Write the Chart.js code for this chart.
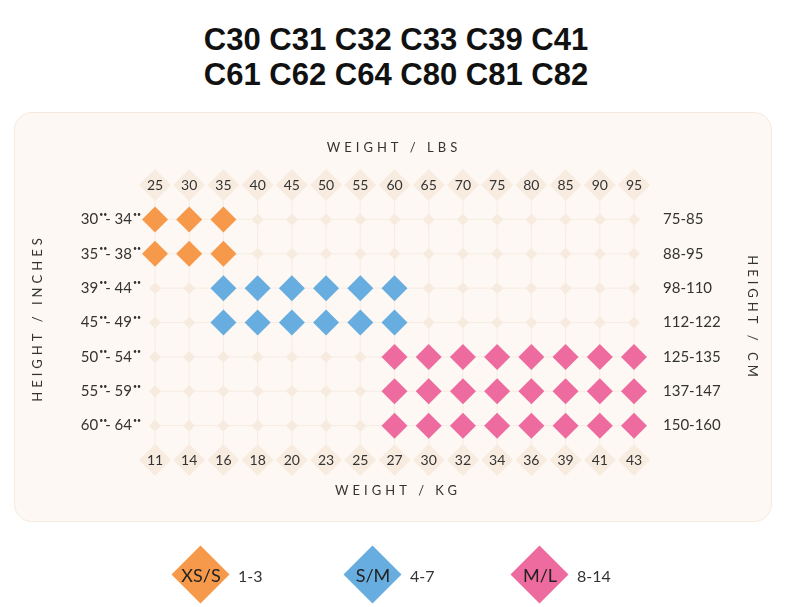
<!DOCTYPE html>
<html><head><meta charset="utf-8">
<script src="https://cdn.jsdelivr.net/npm/chart.js@4"></script>
<style>
body{margin:0;width:792px;height:607px;background:#fff;position:relative;overflow:hidden;font-family:Lato,sans-serif}
.t{position:absolute;left:0;width:792px;text-align:center;font-family:"Liberation Sans",Arial,sans-serif;font-weight:bold;font-size:31px;color:#111}
#panel{position:absolute;left:14px;top:112px;width:758px;height:410px;background:#fdf8f3;border:1px solid #f5eadf;border-radius:18px;box-sizing:border-box}
#c{position:absolute;left:0;top:0}
.lg{position:absolute;top:546px;display:flex;align-items:center;font-size:16px;color:#333}
.d{width:58px;height:58px;position:relative;margin-right:8px}
.d i{position:absolute;left:8px;top:8px;width:41px;height:41px;transform:rotate(45deg)}
.d b{position:absolute;left:0;top:0;width:58px;line-height:58px;text-align:center;font-weight:normal;font-size:18px;color:#222}
</style></head><body>
<div class="t" style="top:22px">C30 C31 C32 C33 C39 C41</div>
<div class="t" style="top:57px">C61 C62 C64 C80 C81 C82</div>
<div id="panel"></div>
<canvas id="c" width="792" height="607"></canvas>
<div class="lg" style="left:172px"><div class="d"><i style="background:#f7994b"></i><b>XS/S</b></div>1-3</div>
<div class="lg" style="left:344px"><div class="d"><i style="background:#68ade0"></i><b>S/M</b></div>4-7</div>
<div class="lg" style="left:511px"><div class="d"><i style="background:#ee6b9f"></i><b>M/L</b></div>8-14</div>
<script>
const lbs=["25","30","35","40","45","50","55","60","65","70","75","80","85","90","95"];
const kg=["11","14","16","18","20","23","25","27","30","32","34","36","39","41","43"];
const inchesFrom=["30","35","39","45","50","55","60"];
const inchesTo=["34","38","44","49","54","59","64"];
const cm=["75-85","88-95","98-110","112-122","125-135","137-147","150-160"];
const xsRows=[0,1], xsCols=[0,1,2];
const smRows=[2,3], smCols=[2,3,4,5,6,7];
const mlRows=[4,5,6], mlCols=[7,8,9,10,11,12,13,14];

function pts(rows,cols){const o=[];rows.forEach(r=>cols.forEach(c=>o.push({x:c,y:r})));return o;}
const xs=pts(xsRows,xsCols), sm=pts(smRows,smCols), ml=pts(mlRows,mlCols);
const used=new Set([...xs,...sm,...ml].map(p=>p.x+','+p.y));
const bg=[];for(let r=0;r<7;r++)for(let c=0;c<15;c++)if(!used.has(c+','+r))bg.push({x:c,y:r});
const lab=[];for(let c=0;c<15;c++){lab.push({x:c,y:-1});lab.push({x:c,y:7});}

const deco={id:'deco',
 beforeDatasetsDraw(ch){const ctx=ch.ctx,X=ch.scales.x,Y=ch.scales.y;ctx.save();ctx.strokeStyle='#f6ece2';ctx.lineWidth=1;
  for(let c=0;c<15;c++){const x=X.getPixelForValue(c);ctx.beginPath();ctx.moveTo(x,Y.getPixelForValue(-1));ctx.lineTo(x,Y.getPixelForValue(7));ctx.stroke();}
  for(let r=0;r<7;r++){const y=Y.getPixelForValue(r);ctx.beginPath();ctx.moveTo(X.getPixelForValue(0),y);ctx.lineTo(X.getPixelForValue(14),y);ctx.stroke();}
  ctx.restore();},
 afterDatasetsDraw(ch){const ctx=ch.ctx,X=ch.scales.x,Y=ch.scales.y;ctx.save();ctx.fillStyle='#333';ctx.font='14px Lato';ctx.textAlign='center';ctx.textBaseline='middle';
  lbs.forEach((t,i)=>ctx.fillText(t,X.getPixelForValue(i),Y.getPixelForValue(-1)));
  kg.forEach((t,i)=>ctx.fillText(t,X.getPixelForValue(i),Y.getPixelForValue(7)));
  ctx.textAlign='left';ctx.font='15px Lato';cm.forEach((t,i)=>ctx.fillText(t,663,Y.getPixelForValue(i)));
  inchesFrom.forEach((a,i)=>{const y=Y.getPixelForValue(i);const b=inchesTo[i];
    ctx.font='15px Lato';const wa=ctx.measureText(a).width,wd=ctx.measureText('- ').width,wb=ctx.measureText(b).width;
    const dw=7;let x=139-(wa+dw+wd+wb+dw);
    ctx.fillText(a,x,y);x+=wa;ctx.font='7px Lato';ctx.fillText('••',x+1,y-5);x+=dw;
    ctx.font='15px Lato';ctx.fillText('- ',x,y);x+=wd;ctx.fillText(b,x,y);x+=wb;ctx.font='7px Lato';ctx.fillText('••',x+1,y-5);});
  ctx.font='13px Lato';ctx.textAlign='center';ctx.fillStyle='#333';
  ctx.letterSpacing='4px';
  ctx.fillText('WEIGHT / LBS',394,148);ctx.fillText('WEIGHT / KG',398,491);
  ctx.save();ctx.translate(38,318);ctx.rotate(-Math.PI/2);ctx.fillText('HEIGHT / INCHES',0,0);ctx.restore();
  ctx.save();ctx.translate(752,318);ctx.rotate(Math.PI/2);ctx.fillText('HEIGHT / CM',0,0);ctx.restore();
  ctx.restore();}};

new Chart(document.getElementById('c'),{type:'scatter',
 data:{datasets:[
  {data:lab,pointStyle:'rectRot',pointRadius:16,backgroundColor:'#f8ece1',borderWidth:0,clip:false},
  {data:bg,pointStyle:'rectRot',pointRadius:6,backgroundColor:'#f7ebdf',borderWidth:0,clip:false},
  {data:xs,pointStyle:'rectRot',pointRadius:13,backgroundColor:'#f7994b',borderWidth:0,clip:false},
  {data:sm,pointStyle:'rectRot',pointRadius:13,backgroundColor:'#68ade0',borderWidth:0,clip:false},
  {data:ml,pointStyle:'rectRot',pointRadius:13,backgroundColor:'#ee6b9f',borderWidth:0,clip:false}]},
 options:{responsive:false,animation:false,events:[],
  layout:{padding:{left:155,right:158,top:185,bottom:147}},
  scales:{x:{type:'linear',min:0,max:14,display:false},y:{type:'linear',min:-1,max:7,reverse:true,display:false}},
  plugins:{legend:{display:false},tooltip:{enabled:false}}},
 plugins:[deco]});
</script></body></html>
